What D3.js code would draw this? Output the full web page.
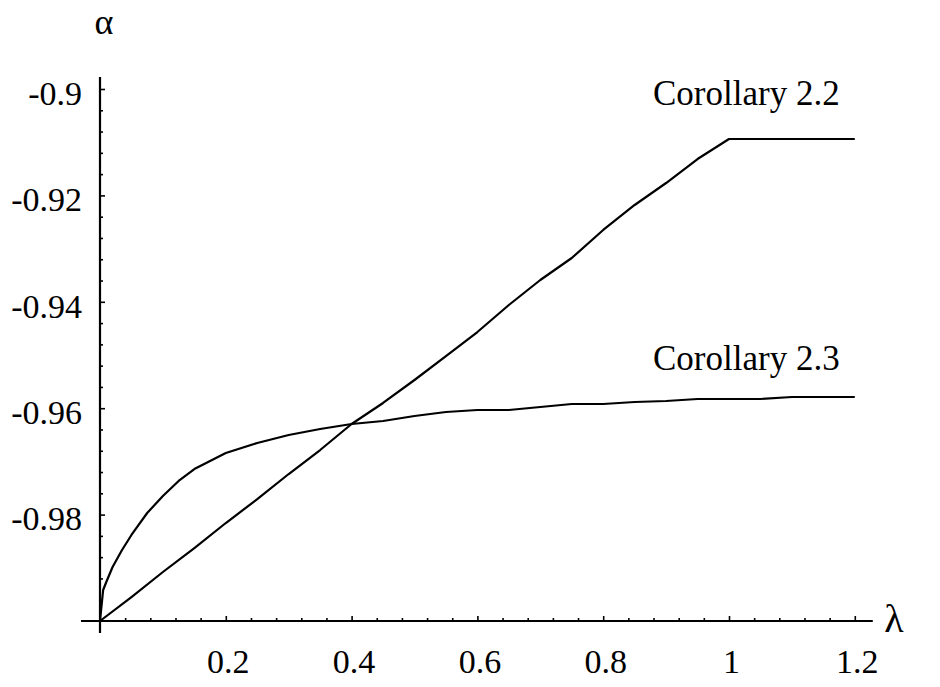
<!DOCTYPE html>
<html>
<head>
<meta charset="utf-8">
<title>Corollary 2.2 / 2.3</title>
<script src="https://cdn.jsdelivr.net/npm/d3@7/dist/d3.min.js"></script>
<style>
	body { margin: 0; background: #fff; }
	.axis path { display: none; }
	.axis line { stroke: #000; stroke-width: 1.6; }
</style>
</head>
<body>
<div id="chart"></div>
<script>
// lambda values and alpha for each curve
var lam22 = [0, 0.05, 0.1, 0.15, 0.2, 0.25, 0.3, 0.35, 0.4, 0.45, 0.5, 0.55, 0.6, 0.65, 0.7, 0.75, 0.8, 0.85, 0.9, 0.95, 1.0, 1.05, 1.1, 1.15, 1.2];
var alpha22 = [-1, -0.99549, -0.99079, -0.98628, -0.98158, -0.9771, -0.97237, -0.96786, -0.96297, -0.95902, -0.9547, -0.95019, -0.94568, -0.9406, -0.9359, -0.93177, -0.9265, -0.9218, -0.91767, -0.91316, -0.9094, -0.9094, -0.9094, -0.9094, -0.9094];

var lam23 = [0, 0.005, 0.01, 0.02, 0.035, 0.05, 0.075, 0.1, 0.125, 0.15, 0.2, 0.25, 0.3, 0.35, 0.4, 0.45, 0.5, 0.55, 0.6, 0.65, 0.7, 0.75, 0.8, 0.85, 0.9, 0.95, 1.0, 1.05, 1.1, 1.15, 1.2];
var alpha23 = [-1, -0.99417, -0.99267, -0.98985, -0.98665, -0.98383, -0.9797, -0.9765, -0.97368, -0.97143, -0.96842, -0.96654, -0.96504, -0.96391, -0.96297, -0.96241, -0.96147, -0.96071, -0.96034, -0.96034, -0.95977, -0.95921, -0.95921, -0.95883, -0.95865, -0.95827, -0.95827, -0.95827, -0.95789, -0.95789, -0.95789];

var seriesNames = ["Corollary 2.2", "Corollary 2.3"];

// tick values and labels
var xTicks = [0.2, 0.4, 0.6, 0.8, 1, 1.2];
var xTickLabels = ["0.2", "0.4", "0.6", "0.8", "1", "1.2"];
var yTicks = [-0.98, -0.96, -0.94, -0.92, -0.9];
var yTickLabels = ["-0.98", "-0.96", "-0.94", "-0.92", "-0.9"];

var serif = "'Liberation Serif', 'Times New Roman', serif";

var width = 940,
	height = 687;

var svg = d3.select("#chart")
	.append("svg")
	.attr("width", width)
	.attr("height", height)
	.style("font-family", serif);

// origin at (100,621)
var x = d3.scaleLinear().domain([0, 1.2]).range([100, 854.8]);
var y = d3.scaleLinear().domain([-1, -0.9]).range([621, 89]);

// minor ticks every 0.04 / 0.004
var xMinor = d3.range(1, 31).filter(function(i) { return i % 5 != 0; }).map(function(i) { return i * 0.04; });
var yMinor = d3.range(1, 26).filter(function(i) { return i % 5 != 0; }).map(function(i) { return -1 + i * 0.004; });

//############### axes ##################
svg.append("g")
	.attr("class", "axis")
	.attr("transform", "translate(0," + y(-1) + ")")
	.call(d3.axisBottom(x).tickValues(xMinor).tickSize(-3).tickFormat(""));

var gx = svg.append("g")
	.attr("class", "axis")
	.attr("transform", "translate(0," + y(-1) + ")")
	.call(d3.axisBottom(x).tickValues(xTicks).tickSize(-5).tickPadding(28)
		.tickFormat(function(d, i) { return xTickLabels[i]; }));
gx.selectAll("text")
	.style("font-family", serif)
	.attr("font-size", 34)
	.attr("dx", 2);

svg.append("g")
	.attr("class", "axis")
	.attr("transform", "translate(" + x(0) + ",0)")
	.call(d3.axisLeft(y).tickValues(yMinor).tickSize(-3).tickFormat(""));

var gy = svg.append("g")
	.attr("class", "axis")
	.attr("transform", "translate(" + x(0) + ",0)")
	.call(d3.axisLeft(y).tickValues(yTicks).tickSize(-5).tickPadding(18)
		.tickFormat(function(d, i) { return yTickLabels[i]; }));
gy.selectAll("text")
	.style("font-family", serif)
	.attr("font-size", 34)
	.attr("dy", "0.45em");

// axis lines (run a little past the origin)
svg.append("line")
	.attr("x1", x(0) - 19).attr("x2", x(1.2) + 18)
	.attr("y1", y(-1)).attr("y2", y(-1))
	.attr("stroke", "#000").attr("stroke-width", 2.2);
svg.append("line")
	.attr("x1", x(0)).attr("x2", x(0))
	.attr("y1", y(-1) + 12).attr("y2", y(-0.9) - 12)
	.attr("stroke", "#000").attr("stroke-width", 2.2);

// axis names
svg.append("text")
	.attr("x", 104).attr("y", 34)
	.attr("text-anchor", "middle")
	.attr("font-size", 36)
	.text("\u03b1");
svg.append("text")
	.attr("x", 894).attr("y", 632)
	.attr("text-anchor", "middle")
	.attr("font-size", 40)
	.text("\u03bb");

//############### curves ##################
var line = d3.line()
	.x(function(d) { return x(d[0]); })
	.y(function(d) { return y(d[1]); });

var curves = [d3.zip(lam22, alpha22), d3.zip(lam23, alpha23)];

svg.selectAll(".curve")
	.data(curves)
	.enter().append("path")
	.attr("class", "curve")
	.attr("d", line)
	.attr("fill", "none")
	.attr("stroke", "#000")
	.attr("stroke-width", 2.2)
	.attr("stroke-linejoin", "round");

// curve names
svg.append("text")
	.attr("x", 653).attr("y", 105)
	.attr("font-size", 35)
	.text(seriesNames[0]);
svg.append("text")
	.attr("x", 653).attr("y", 370)
	.attr("font-size", 35)
	.text(seriesNames[1]);
</script>
</body>
</html>
